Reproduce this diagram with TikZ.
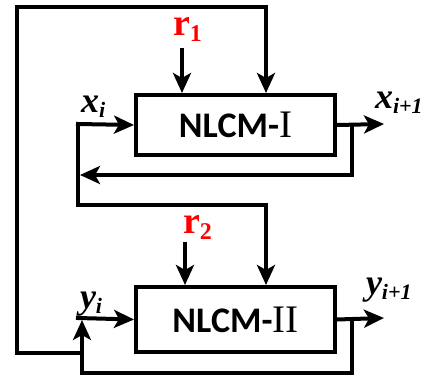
\documentclass[tikz,border=0pt]{standalone}
\usepackage{fontspec}
\setmainfont{Liberation Serif}
\newfontfamily\boxfont{Carlito}
\usetikzlibrary{arrows.meta}
\newcommand{\sigsub}[2]{{\fontsize{36}{36}\selectfont\bfseries\itshape #1}\raisebox{-5pt}{\fontsize{22}{22}\selectfont\bfseries\itshape #2}}
\newcommand{\refin}[1]{\textcolor{red}{{\fontsize{38}{38}\selectfont\bfseries r}\raisebox{-6pt}{\fontsize{24}{24}\selectfont\bfseries #1}}}

\begin{document}
\begin{tikzpicture}[x=1pt,y=-1pt,line width=4pt,line cap=rect,
  >={Stealth[length=20pt,width=18pt,inset=5pt]},
  block/.style={draw,rectangle,minimum width=199pt,inner sep=0pt},
  blocktext/.style={font=\fontsize{36}{36}\selectfont\boxfont\bfseries},
  lab/.style={inner sep=0pt,anchor=base west},
  tap/.style={->,line cap=butt,line join=miter}]
\useasboundingbox (0,0) rectangle (429,378);
\node[block,blocktext,minimum height=60pt] (nlcmI) at (235.5,125) {NLCM-{\fontsize{39}{39}\selectfont\rmfamily\mdseries I}};
\node[block,blocktext,minimum height=65pt] (nlcmII) at (235.5,319.5) {NLCM-{\fontsize{39}{39}\selectfont\rmfamily\mdseries II}};
\node[lab] (r1) at (171,35) {\refin{1}};
\node[lab] (r2) at (181,233) {\refin{2}};
\node[lab] (xi) at (79,112) {\sigsub{x}{i}};
\node[lab] (xo) at (373,108) {\sigsub{x}{i+1}};
\node[lab] (yi) at (78,308) {\sigsub{y}{i}};
\node[lab] (yo) at (364,294) {\sigsub{y}{i+1}};
% junctions
\coordinate (xin) at (78,124);
\coordinate (xmid) at (78,205);
\coordinate (xcross) at (266,205);
\coordinate (xtap) at (352,124);
\coordinate (xback) at (352,175);
\coordinate (xend) at (80,175);
\coordinate (xout) at (384,124);
\coordinate (r1s) at (182,50);
\coordinate (r2s) at (185,244);
\coordinate (yin) at (78,318);
\coordinate (ytap) at (352,318);
\coordinate (yback) at (352,373);
\coordinate (yup) at (82,373);
\coordinate (yend) at (82,320);
\coordinate (yout) at (384,318);
\coordinate (outbl) at (17,353);
\coordinate (outtl) at (17,7);
\coordinate (outtr) at (266,7);
% top block
\draw[->] (xin) -- (nlcmI.west);
\draw[->] (nlcmI.east) -- (xout);
\draw[tap] (xtap) -- (xback) -- (xend);
\draw[->] (r1s) -- (r1s |- nlcmI.north);
\draw[->,line join=miter] (outbl -| yup) -- (outbl) -- (outtl) -- (outtr) -- (outtr |- nlcmI.north);
% bottom block
\draw[->,line join=miter] (xin) -- (xmid) -- (xcross) -- (xcross |- nlcmII.north);
\draw[->] (r2s) -- (r2s |- nlcmII.north);
\draw[->] (yin) -- (nlcmII.west);
\draw[->] (nlcmII.east) -- (yout);
\draw[tap] (ytap) -- (yback) -- (yup) -- (yend);
\end{tikzpicture}
\end{document}
